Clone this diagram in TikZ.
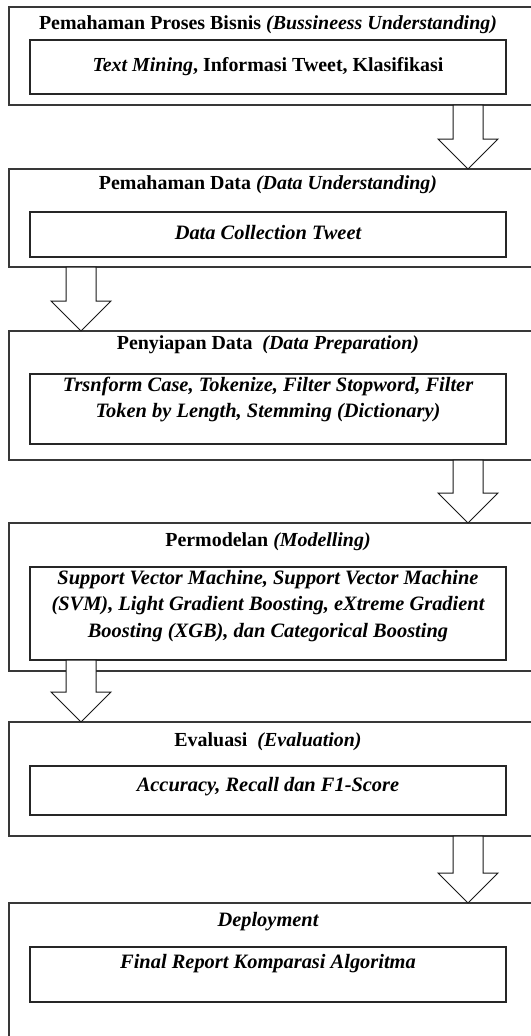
\documentclass[tikz,border=0pt]{standalone}
\usepackage{fontspec}
\setmainfont{Liberation Serif}
\usetikzlibrary{calc}

\tikzset{
  outerbox/.style={draw=black!78, line width=1.3bp, fill=white, rectangle,
    inner sep=0pt, outer sep=0pt, minimum width=540bp, anchor=north west},
  innerbox/.style={draw=black!85, line width=1.5bp, fill=white, rectangle,
    inner sep=0pt, outer sep=0pt, minimum width=476bp, anchor=north west},
  title/.style={font=\fontsize{20}{24}\selectfont\bfseries, inner sep=0pt},
  body/.style={font=\fontsize{20.5}{26}\selectfont\bfseries\itshape, align=center, inner sep=0pt},
  blockarrow/.style={draw=black!90, line width=1bp, fill=white, line join=miter}
}

% hollow block arrow from #1 down to #2 along the vertical axis through #3
\newcommand\flowarrow[3]{%
  \path (#1 -| #3) coordinate (fa-s) (#2 -| #3) coordinate (fa-e);
  \draw[blockarrow] ($(fa-s)+(-15,0)$) -- ($(fa-e)+(-15,-30)$) -- ($(fa-e)+(-30,-30)$)
    -- (fa-e) -- ($(fa-e)+(30,-30)$) -- ($(fa-e)+(15,-30)$) -- ($(fa-s)+(15,0)$) -- cycle;
}

\begin{document}
\begin{tikzpicture}[x=1bp, y=-1bp]
\useasboundingbox (0,0) rectangle (531,1036);
\clip (0,0) rectangle (531,1036);
\fill[white] (0,0) rectangle (531,1036);

% arrow axes
\coordinate (axR) at (468,0);
\coordinate (axL) at (81,0);

% stage 1
\node[outerbox, minimum height=98bp] (b1) at (9,7) {};
\node[title] (h1) at (268,25) {Pemahaman Proses Bisnis \textit{(Bussineess Understanding)}};
\node[innerbox, minimum height=54bp] (i1) at (30,40) {};
\node[title] (t1) at (268,67) {\textit{Text Mining}, Informasi Tweet, Klasifikasi};

% stage 2
\node[outerbox, minimum height=98bp] (b2) at (9,169) {};
\node[title] (h2) at (268,185) {Pemahaman Data \textit{(Data Understanding)}};
\node[innerbox, minimum height=45bp] (i2) at (30,212) {};
\node[body] (t2) at (268,233) {Data Collection Tweet};

% stage 3
\node[outerbox, minimum height=129bp] (b3) at (9,331) {};
\node[title] (h3) at (268,345) {Penyiapan Data \ \textit{(Data Preparation)}};
\node[innerbox, minimum height=70bp] (i3) at (30,374) {};
\node[body] (t3) at (268,399.5) {Trsnform Case, Tokenize, Filter Stopword, Filter\\Token by Length, Stemming (Dictionary)};

% stage 4
\node[outerbox, minimum height=148bp] (b4) at (9,523) {};
\node[title] (h4) at (268,542) {Permodelan \textit{(Modelling)}};
\node[innerbox, minimum height=93bp] (i4) at (30,567) {};
\node[body, font=\fontsize{20.5}{27}\selectfont\bfseries\itshape] (t4) at (268,606) {Support Vector Machine, Support Vector Machine\\(SVM), Light Gradient Boosting, eXtreme Gradient\\Boosting (XGB), dan Categorical Boosting};

% stage 5
\node[outerbox, minimum height=114bp] (b5) at (9,722) {};
\node[title] (h5) at (268,742) {Evaluasi \ \textit{(Evaluation)}};
\node[innerbox, minimum height=49bp] (i5) at (30,766) {};
\node[body] (t5) at (268,787) {Accuracy, Recall dan F1-Score};

% stage 6
\node[outerbox, minimum height=150bp] (b6) at (9,903) {};
\node[body] (h6) at (268,922) {Deployment};
\node[innerbox, minimum height=55bp] (i6) at (30,947) {};
\node[body] (t6) at (268,964) {Final Report Komparasi Algoritma};

% flow between stages
\flowarrow{b1.south}{b2.north}{axR}
\flowarrow{b2.south}{b3.north}{axL}
\flowarrow{b3.south}{b4.north}{axR}
\flowarrow{i4.south}{b5.north}{axL}
\flowarrow{b5.south}{b6.north}{axR}
\end{tikzpicture}
\end{document}
